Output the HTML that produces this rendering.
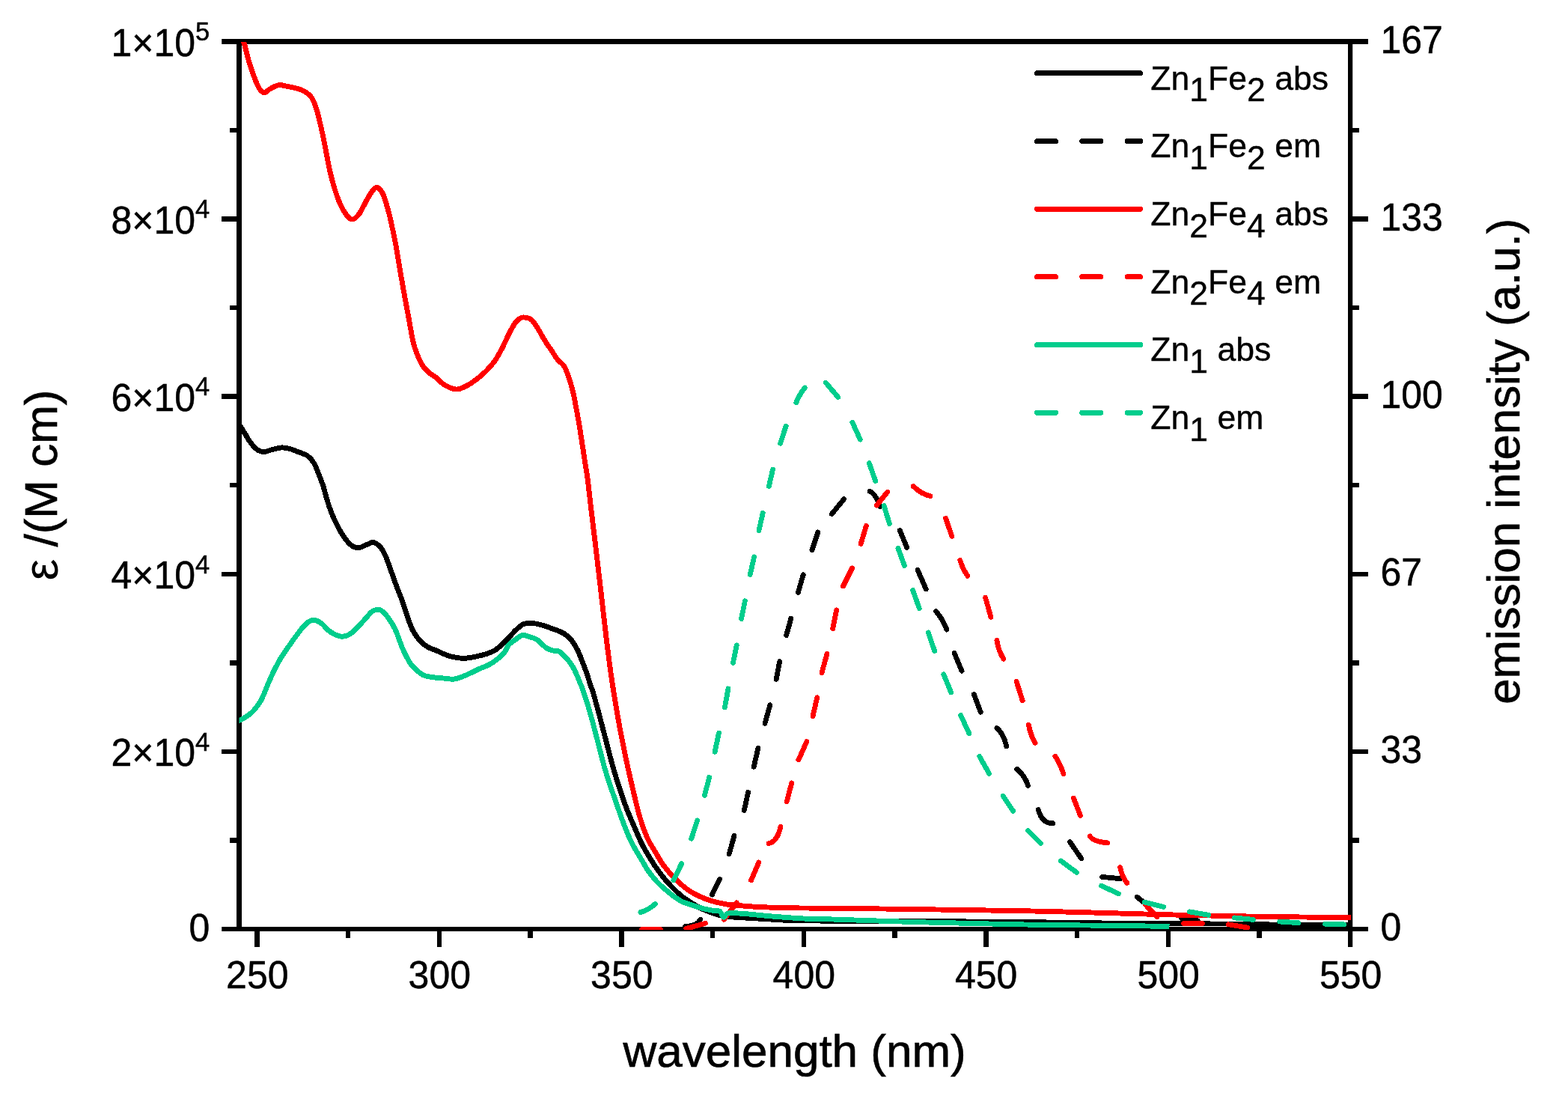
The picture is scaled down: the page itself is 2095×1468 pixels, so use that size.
<!DOCTYPE html>
<html lang="en"><head><meta charset="utf-8"><title>Absorption and emission spectra</title>
<style>html,body{margin:0;padding:0;background:#fff}body{width:2095px;height:1468px;overflow:hidden}svg{display:block}text{font-family:'Liberation Sans', sans-serif;fill:#000}</style>
</head><body>
<svg width="2095" height="1468" viewBox="0 0 2095 1468">
<rect width="2095" height="1468" fill="#fff"/>
<defs><clipPath id="plot"><rect x="319.5" y="56" width="1485.5" height="1186"/></clipPath></defs>
<g fill="#000">
<rect x="296.2" y="52" width="1531.8" height="7"/>
<rect x="296.2" y="1238" width="1531.8" height="6"/>
<rect x="316" y="52" width="7" height="1192"/>
<rect x="1801" y="52" width="6.2" height="1213"/>
</g>
<path d="M307 174.1H319.5M1804.3 174.1H1816M296.2 292.6H319.5M1804.3 292.6H1828M307 411.1H319.5M1804.3 411.1H1816M296.2 529.7H319.5M1804.3 529.7H1828M307 648.2H319.5M1804.3 648.2H1816M296.2 766.8H319.5M1804.3 766.8H1828M307 885.4H319.5M1804.3 885.4H1816M296.2 1003.9H319.5M1804.3 1003.9H1828M307 1122.5H319.5M1804.3 1122.5H1816M343.5 1241V1265M465.2 1241V1253M587 1241V1265M708.7 1241V1253M830.5 1241V1265M952.2 1241V1253M1074 1241V1265M1195.7 1241V1253M1317.4 1241V1265M1439.2 1241V1253M1560.9 1241V1265M1682.7 1241V1253" stroke="#000" stroke-width="6.5" fill="none" shape-rendering="crispEdges"/>
<g clip-path="url(#plot)" fill="none" stroke-width="6.9" stroke-linejoin="round" shape-rendering="crispEdges">
<path d="M316 561C316.7 562.1 318.2 564.8 320 567.7C321.8 570.6 324.3 574.4 326.7 578.2C329.1 582 331.7 587 334.4 590.6C337.1 594.2 340 597.9 343 600.1C346 602.3 349.2 603.5 352.5 603.6C355.8 603.7 359 601.7 363 600.7C367 599.8 372.3 598.1 376.4 597.9C380.5 597.7 384 598.6 387.8 599.6C391.6 600.6 395.5 602.5 399.3 604C403.1 605.5 407.4 606.3 410.7 608.7C414 611.1 416.8 614.1 419.3 618.3C421.9 622.4 423.9 628.5 426 633.6C428.1 638.7 429.9 643.4 431.7 648.8C433.4 654.2 434.8 660.3 436.5 666C438.2 671.7 440.1 677.8 442.2 683.2C444.3 688.6 446.5 693.6 448.9 698.5C451.3 703.4 454.1 708.7 456.6 712.8C459.2 716.9 461.7 720.4 464.2 723.3C466.7 726.2 469.1 728.6 471.8 730C474.5 731.4 477.2 732 480.4 731.5C483.6 731 487.7 728.2 490.9 727.1C494.1 726 496.5 723.8 499.5 724.6C502.5 725.4 506.4 728.6 509.1 731.9C511.8 735.2 513.4 738.7 515.8 744.3C518.2 749.9 520.9 758.5 523.4 765.3C525.9 772.1 528.3 779 530.5 785C532.7 791 534.5 794.5 536.8 801C539.1 807.5 541.9 816.9 544.4 823.9C546.9 830.9 549.1 837.6 552 843C554.9 848.4 558.4 852.9 561.6 856.4C564.8 859.9 567.6 861.9 571.1 864C574.6 866.1 578.2 866.9 582.6 868.8C587 870.7 593.3 873.9 597.8 875.5C602.2 877.1 605.5 877.7 609.3 878.3C613.1 878.9 616.3 879.5 620.8 879.3C625.2 879.1 631.2 878 636 877C640.8 876 645.2 875 649.4 873.6C653.5 872.2 657.4 870.9 660.9 868.8C664.4 866.7 667 864.2 670.4 861.1C673.8 858 677.8 853.6 681 850.3C684.2 847 686.5 844.1 689.5 841.4C692.5 838.6 695.6 835.3 699.1 833.8C702.6 832.3 706.7 832.4 710.5 832.5C714.3 832.6 717.5 833.2 722 834.4C726.5 835.6 732 837.5 737.3 839.5C742.5 841.5 749 843.5 753.5 846.2C758 848.9 761 852.1 764 855.8C767 859.5 769.2 863.4 771.6 868.2C774 873 776.1 878.9 778.3 884.4C780.4 889.9 782.8 895.9 784.5 901C786.2 906.1 787.4 910.8 788.8 915C790.2 919.2 790.8 919.6 792.7 926C794.6 932.4 797.4 942.9 800.3 953.5C803.1 964.1 806.6 977.6 809.8 989.7C813 1001.8 816.2 1014.9 819.4 1026C822.6 1037.2 825.7 1047 828.9 1056.6C832.1 1066.1 835 1074.4 838.5 1083.3C842 1092.2 847 1103.2 849.9 1110C852.8 1116.8 853.8 1119.5 856 1124C858.2 1128.5 859.9 1131.9 863 1137.2C866.1 1142.5 870.8 1150.2 874.5 1155.8C878.2 1161.4 881.7 1166.2 885.5 1171C889.3 1175.8 893.3 1180.1 897.4 1184.4C901.5 1188.7 906 1193.1 910.3 1196.6C914.6 1200.1 918.7 1202.7 923.2 1205.6C927.7 1208.5 932.7 1211.5 937.5 1213.8C942.3 1216.1 947.3 1217.9 951.8 1219.5C956.3 1221.1 960.2 1222.5 964.7 1223.4C969.2 1224.3 973 1224.5 979 1225C985 1225.5 992.1 1225.8 1000.5 1226.3C1008.9 1226.8 1020 1227.5 1029.1 1228C1038.2 1228.5 1043.2 1229.1 1055 1229.4C1066.8 1229.8 1084.2 1229.9 1100 1230.1C1115.8 1230.3 1129.5 1230.3 1150 1230.4C1170.5 1230.5 1198 1230.5 1223 1230.6C1248 1230.7 1273.8 1230.8 1300 1231C1326.2 1231.2 1340 1231.2 1380 1231.7C1420 1232.2 1496.7 1233.4 1540 1233.8C1583.3 1234.2 1613.3 1233.8 1640 1234C1666.7 1234.2 1671.7 1234.8 1700 1235C1728.3 1235.2 1791.7 1235.4 1810 1235.5" stroke="#000000"/>
<path d="M915.8 1237.3Q931.3 1237.2 935.7 1228.3M951.4 1195.2L961.5 1174.4M974.2 1140.7L981.1 1116.2M994.3 1082.5L999.6 1058.3M1007.2 1024.2L1013 999.1M1022 966.4L1028.8 941.8M1037.1 907.4L1041.7 883.7M1050.6 848.7L1056.9 826M1066.4 791.4L1073.2 767.8M1084.9 734.7L1092.9 710.9M1111.3 686.6Q1119.4 676.7 1127.5 666.8M1162 656.2Q1168.8 658 1176.3 676.9M1202.3 708.5L1211.7 731.3M1226 761.3L1237.3 787M1250.5 816.5Q1259.5 826.8 1265 841.1M1275.1 872.4L1285 896.2M1301.3 927.4L1310.2 951.2M1332 972.6Q1341 980.2 1344.8 997M1358.8 1027.4Q1369.4 1036.2 1373.6 1049.4M1387.3 1081.5Q1392.2 1100.4 1406.6 1099.6M1429.4 1124.5L1444.7 1146.7M1472.7 1171.4L1496.9 1173.7M1519.3 1198.2L1533.4 1209.5M1578.6 1226.4L1600.2 1229.7" stroke="#000000" stroke-linecap="round" stroke-width="6.8"/>
<path d="M318 45C319.3 47 323.6 51.7 325.8 57.2C328.1 62.7 329.4 71.2 331.5 78.2C333.6 85.2 335.8 92.8 338.2 99.2C340.6 105.6 343.2 112.7 345.6 116.8C348.1 120.9 350.3 123.6 352.9 123.9C355.5 124.2 357.8 120.3 361.1 118.6C364.4 116.9 368.8 114.2 372.6 113.7C376.4 113.2 380.2 114.7 384 115.4C387.8 116.1 391.7 116.8 395.5 117.9C399.3 119 403.4 120 406.9 122.1C410.4 124.2 413.8 126.6 416.5 130.7C419.2 134.8 421 139.7 423.2 146.9C425.4 154.1 427.7 164.5 429.8 173.7C431.9 182.9 433.7 192.8 435.6 202.3C437.5 211.8 439.4 222.6 441.3 230.9C443.2 239.2 444.8 244.9 447 251.9C449.2 258.9 452.1 267.2 454.7 272.9C457.2 278.6 459.7 282.9 462.3 286.3C464.9 289.7 467.6 293 470.5 293C473.4 293 476.4 290.3 479.5 286.3C482.6 282.3 486 274.4 489 269.1C492 263.9 495.1 257.9 497.6 254.8C500.2 251.7 501.9 249.8 504.3 250.6C506.7 251.4 509.3 254 511.9 259.6C514.4 265.2 517.5 276.7 519.6 284.4C521.7 292.1 522.9 298.6 524.5 306C526.1 313.4 527.4 319.1 529.1 328.6C530.8 338.1 532.9 351.9 534.8 363C536.7 374.1 538.7 385 540.6 395.5C542.5 406 544.4 415.8 546.3 426C548.2 436.2 550.2 449 552 456.6C553.8 464.2 554.7 466.6 556.8 471.8C558.9 477.1 561.7 483.8 564.4 488.1C567.1 492.4 570 494.9 573 497.6C576 500.3 579.4 501.8 582.6 504.3C585.8 506.9 588.9 510.6 592.1 512.9C595.3 515.2 598.5 516.8 601.7 518C604.9 519.2 607.7 520.4 611.2 520C614.7 519.6 618.6 517.9 622.7 515.8C626.8 513.7 631.5 510.5 636 507.2C640.5 503.9 645.2 499.8 649.4 495.7C653.5 491.6 657.4 487.2 660.9 482.3C664.4 477.4 667.2 472.2 670.4 466.1C673.6 460.1 677 451.8 680 446C683 440.2 686 434.8 688.2 431.5C690.4 428.2 691.5 427.7 693.3 426.4C695.1 425.1 696.4 423.8 699.1 423.9C701.8 424 706.4 424.4 709.6 426.8C712.8 429.2 715.2 433.6 718.2 438.2C721.2 442.8 724.5 449.4 727.7 454.5C730.9 459.6 734.4 464.5 737.3 468.8C740.2 473.1 742.2 476.9 744.9 480.2C747.6 483.5 751.1 485.1 753.5 488.8C755.9 492.5 757.3 496.8 759.2 502.2C761.1 507.6 763.2 514.3 765 521.3C766.8 528.3 768.1 535.9 769.7 544.2C771.3 552.5 773.1 562.3 774.5 570.9C775.9 579.5 777 587.5 778.3 595.8C779.6 604.1 780.9 613.1 782.1 620.6C783.3 628.1 783.9 629.8 785.3 641C786.7 652.2 788.8 672 790.7 687.7C792.6 703.5 794.4 718 796.5 735.5C798.6 753 801 773.6 803.2 792.7C805.4 811.8 807.9 834.1 809.8 850C811.7 865.9 813.2 877.9 814.6 888.2C816 898.5 816.7 903.7 818 912C819.3 920.3 820.4 927.5 822.2 938.2C824 948.9 826.5 963.7 828.9 976.4C831.3 989.1 833.9 1001.9 836.6 1014.6C839.3 1027.3 842.2 1040 845.2 1052.7C848.2 1065.4 851.5 1079.9 854.7 1090.9C857.9 1101.9 861.2 1110.9 864.5 1118.5C867.8 1126.1 871.2 1130.7 874.6 1136.5C878 1142.3 881.5 1148.5 884.9 1153.5C888.3 1158.5 891.7 1162.5 895.2 1166.5C898.7 1170.5 902.3 1174.2 906 1177.7C909.7 1181.2 913.6 1184.5 917.4 1187.3C921.2 1190.1 924.6 1192.2 928.9 1194.5C933.2 1196.8 938.4 1199.1 943.2 1200.9C948 1202.7 952.7 1204 957.5 1205.2C962.3 1206.4 967 1207.4 971.8 1208.1C976.6 1208.8 979 1208.9 986.2 1209.5C993.4 1210.1 1002.9 1211 1014.8 1211.6C1026.7 1212.1 1043.6 1212.5 1057.8 1212.8C1072 1213.1 1079.6 1213 1100 1213.2C1120.4 1213.4 1150 1213.6 1180 1214C1210 1214.4 1246.7 1214.9 1280 1215.4C1313.3 1215.9 1350 1216.4 1380 1217C1410 1217.6 1433.3 1218.3 1460 1219C1486.7 1219.7 1513.3 1220.6 1540 1221.3C1566.7 1222 1596.7 1222.6 1620 1223.1C1643.3 1223.6 1660 1223.9 1680 1224.2C1700 1224.5 1718.3 1224.8 1740 1225C1761.7 1225.2 1798.3 1225.6 1810 1225.7" stroke="#FF0000"/>
<path d="M857.4 1241.5L882.5 1241.5M916.8 1240.4L942.4 1233.3M967.3 1228.2L984.2 1205.8M1003.6 1175.9L1013.8 1152M1027.1 1126.7Q1038.9 1123.8 1043 1104M1051.2 1070.7L1057.8 1045.9M1066.9 1015L1077.8 990.6M1086 956.9L1091.7 931.7M1098 898.6L1105.1 873.1M1112.7 839.8L1117.7 814.9M1126.5 783L1138.6 758.9M1150.1 726.5L1157.4 702.3M1171.4 675.1L1185.7 657.2M1220.2 649.5Q1232.5 660.9 1242.8 662.6M1263.5 692.2L1271.8 716.3M1282.7 748.3Q1286.6 761.2 1292.9 769.3M1316.6 798.1L1323.9 824.2M1331.9 855.4Q1333.5 868 1340.8 880.2M1358.1 910.3L1366.2 935.9M1374.3 968.4Q1377.2 982.7 1383 992.3M1409.9 1010.3Q1417.5 1022 1421 1033.7M1434.4 1066L1443.5 1089.5M1456.3 1117Q1460.4 1124.1 1479.7 1125.9M1496.5 1158.4Q1499.8 1172.9 1505.9 1179.4M1530.7 1208.8L1545.7 1224.7M1581.6 1233.6L1606.5 1233.6M1641.3 1234.8L1666.7 1239.1" stroke="#FF0000" stroke-linecap="round" stroke-width="6.8"/>
<path d="M316 964C316.7 963.7 317.9 963.4 320 962.3C322.1 961.2 325.6 959.7 328.6 957.6C331.6 955.5 334.9 953.6 338.2 949.9C341.5 946.2 345.5 941.3 348.7 935.6C351.9 929.9 354.6 921.8 357.3 915.6C360 909.4 362 904.3 364.9 898.4C367.8 892.5 371.3 885.6 374.5 880.2C377.7 874.8 380.5 871 384 865.9C387.5 860.8 391.8 854.6 395.5 849.7C399.2 844.8 402.8 839.7 406 836.3C409.2 832.9 411.9 830.6 414.6 829.3C417.3 828 419.5 828 422.2 828.7C424.9 829.5 428.2 831.7 430.8 833.8C433.4 835.9 434.8 838.9 437.5 841.1C440.2 843.3 443.8 845.7 447 847.2C450.2 848.7 453.4 850.2 456.6 850.3C459.8 850.4 462.9 849.5 466.1 847.8C469.3 846.1 472.4 843.3 475.7 840.1C479 836.9 482.7 832.5 486.2 828.7C489.7 824.9 493.8 819.6 496.7 817.2C499.6 814.8 501.1 814.6 503.3 814.4C505.5 814.2 507.4 814.1 510 815.9C512.5 817.6 515.6 820.7 518.6 824.9C521.6 829.1 525 834.3 528.2 841.1C531.4 847.9 534.7 858.9 537.7 865.9C540.7 872.9 543.9 879 546.3 883.1C548.7 887.2 549 887.7 552 890.7C555 893.7 560.2 898.9 564.4 901.2C568.5 903.5 572.3 903.7 576.9 904.5C581.5 905.3 587 905.6 592.1 906C597.2 906.4 602.3 907.7 607.4 907C612.5 906.3 617.3 904 622.7 901.8C628.1 899.6 634.5 896.1 639.9 893.6C645.3 891.1 649.7 890.2 655.1 886.9C660.5 883.6 668.1 877.9 672.3 873.6C676.4 869.3 677.1 864.3 680 861C682.9 857.7 686.5 855.9 689.5 853.8C692.5 851.7 694.9 849 698.1 848.5C701.3 848 705.2 850 708.6 851C712 852 714.7 852.4 718.2 854.8C721.7 857.2 726.1 862.9 729.6 865.3C733.1 867.7 736.3 868.3 739.2 869.1C742.1 869.9 743.9 868.5 746.8 870.1C749.7 871.7 753.4 875.4 756.4 878.7C759.4 882 762.5 886.1 765 890.1C767.5 894.1 769.5 899.1 771.2 903C773 906.9 774.1 910.2 775.5 913.5C776.9 916.8 777.1 916.2 779.3 922.9C781.5 929.6 785.6 942.4 788.8 953.5C792 964.6 795.2 977.6 798.4 989.7C801.6 1001.8 804.9 1015.5 807.9 1026C810.9 1036.5 813.6 1044.1 816.5 1052.7C819.4 1061.3 822.4 1069.9 825.1 1077.6C827.8 1085.2 830 1091.4 832.7 1098.6C835.4 1105.8 838.8 1114.5 841.5 1120.5C844.2 1126.5 846.1 1129.6 848.7 1134.3C851.3 1139 854.4 1143.8 857.3 1148.6C860.2 1153.4 862.6 1158.2 865.9 1163C869.2 1167.8 873.5 1173.1 877.3 1177.3C881.1 1181.5 885 1184.7 888.8 1188C892.6 1191.3 896.4 1194.5 900.2 1197.3C904 1200 907.4 1202.5 911.7 1204.5C916 1206.5 921.2 1208 926 1209.5C930.8 1211 935.5 1212.6 940.3 1213.8C945.1 1215 951.1 1216.1 954.7 1216.7C958.3 1217.3 959.8 1216 961.8 1217.4C963.8 1218.8 965.1 1224.8 966.8 1225.3C968.5 1225.8 969.3 1221.1 971.8 1220.2C974.3 1219.3 977.1 1219.7 981.9 1219.8C986.7 1219.9 992.6 1220.3 1000.5 1221C1008.4 1221.7 1019.5 1223 1029.1 1223.8C1038.6 1224.6 1049.3 1225.4 1057.8 1226C1066.3 1226.6 1073 1227 1080 1227.3C1087 1227.6 1076.2 1226.9 1100 1227.6C1123.8 1228.3 1176.3 1230.3 1223 1231.6C1269.7 1232.9 1337.2 1234.4 1380 1235.2C1422.8 1236 1449.6 1235.9 1480 1236.3C1510.4 1236.7 1548.8 1237.2 1562.5 1237.4" stroke="#00CD8C"/>
<path d="M855.8 1218.5Q866.2 1216.1 875.3 1207.4M899.8 1175.9L910.7 1153.6M923.7 1120.3L931.7 1095.9M941.4 1062.4L947.7 1038.3M955.1 1004.2L960.5 979.1M968.4 945L973 919.9M979.4 885.5L984.3 861.9M990.5 826.7L995.4 802.7M1002.3 767.5L1007.6 743.9M1013.9 708.9L1019.3 685.1M1027.3 649.7L1032.5 627.1M1042.6 592.2L1050.2 569M1063.7 537.9Q1068.5 526.1 1075.3 518M1103.3 511.1L1119.8 530.6M1138.9 564.3L1149.3 587.1M1161.3 618.7L1169.7 642.4M1181.1 675.6L1188.5 699.7M1199.9 732.3L1208.4 755.6M1219.7 788.5L1228.3 812.7M1240.2 844.9L1248.7 869.6M1260.8 900.7L1270.7 924.9M1283.7 955.5L1294.9 979.9M1308.8 1010.5L1321.6 1033.3M1340.2 1063.4L1353.7 1083.4M1373.6 1109.5L1390.5 1126.4M1417.5 1150L1438.4 1165.3M1471.6 1183.1L1494.5 1193.9M1529 1205.1L1554.7 1211.4M1589.5 1217.9L1614.6 1222.3M1649.4 1225.9L1674.5 1228.4M1709.8 1231L1734.7 1232.7M1770.6 1234.2L1795.5 1234.9" stroke="#00CD8C" stroke-linecap="round" stroke-width="6.8"/>
</g>
<text transform="translate(280.3 75) scale(1 1.025)" font-size="50" text-anchor="end" stroke="#000" stroke-width="0.5">1×10<tspan font-size="34.5" dy="-20.3">5</tspan></text>
<text transform="translate(280.3 312.1) scale(1 1.025)" font-size="50" text-anchor="end" stroke="#000" stroke-width="0.5">8×10<tspan font-size="34.5" dy="-20.3">4</tspan></text>
<text transform="translate(280.3 549.2) scale(1 1.025)" font-size="50" text-anchor="end" stroke="#000" stroke-width="0.5">6×10<tspan font-size="34.5" dy="-20.3">4</tspan></text>
<text transform="translate(280.3 786.3) scale(1 1.025)" font-size="50" text-anchor="end" stroke="#000" stroke-width="0.5">4×10<tspan font-size="34.5" dy="-20.3">4</tspan></text>
<text transform="translate(280.3 1023.4) scale(1 1.025)" font-size="50" text-anchor="end" stroke="#000" stroke-width="0.5">2×10<tspan font-size="34.5" dy="-20.3">4</tspan></text>
<text transform="translate(280.3 1256.6) scale(1 1.025)" font-size="50" text-anchor="end" stroke="#000" stroke-width="0.5">0</text>
<text transform="translate(1844.4 70.7) scale(1 1.025)" font-size="50" text-anchor="start" stroke="#000" stroke-width="0.5">167</text>
<text transform="translate(1844.4 307.8) scale(1 1.025)" font-size="50" text-anchor="start" stroke="#000" stroke-width="0.5">133</text>
<text transform="translate(1844.4 544.9) scale(1 1.025)" font-size="50" text-anchor="start" stroke="#000" stroke-width="0.5">100</text>
<text transform="translate(1844.4 782) scale(1 1.025)" font-size="50" text-anchor="start" stroke="#000" stroke-width="0.5">67</text>
<text transform="translate(1844.4 1019.1) scale(1 1.025)" font-size="50" text-anchor="start" stroke="#000" stroke-width="0.5">33</text>
<text transform="translate(1844.4 1256.2) scale(1 1.025)" font-size="50" text-anchor="start" stroke="#000" stroke-width="0.5">0</text>
<text transform="translate(343.8 1320) scale(1 1.025)" font-size="50" text-anchor="middle" stroke="#000" stroke-width="0.5">250</text>
<text transform="translate(587.3 1320) scale(1 1.025)" font-size="50" text-anchor="middle" stroke="#000" stroke-width="0.5">300</text>
<text transform="translate(830.8 1320) scale(1 1.025)" font-size="50" text-anchor="middle" stroke="#000" stroke-width="0.5">350</text>
<text transform="translate(1074.3 1320) scale(1 1.025)" font-size="50" text-anchor="middle" stroke="#000" stroke-width="0.5">400</text>
<text transform="translate(1317.7 1320) scale(1 1.025)" font-size="50" text-anchor="middle" stroke="#000" stroke-width="0.5">450</text>
<text transform="translate(1561.2 1320) scale(1 1.025)" font-size="50" text-anchor="middle" stroke="#000" stroke-width="0.5">500</text>
<text transform="translate(1804.7 1320) scale(1 1.025)" font-size="50" text-anchor="middle" stroke="#000" stroke-width="0.5">550</text>
<text x="1061.6" y="1424.6" font-size="62" text-anchor="middle" stroke="#000" stroke-width="0.7">wavelength (nm)</text>
<text transform="translate(76.6 775.6) rotate(-90)" font-size="65" font-family="'Liberation Serif', serif">ε</text>
<text transform="translate(76 730.6) rotate(-90)" font-size="62" stroke="#000" stroke-width="0.7">/(M cm)</text>
<text transform="translate(2030.4 940.8) rotate(-90)" font-size="61.8" stroke="#000" stroke-width="0.7">emission intensity (a.u.)</text>
<path d="M1385.5 97.8H1523.5" stroke="#000000" stroke-width="7" stroke-linecap="round" fill="none" shape-rendering="crispEdges"/>
<text transform="translate(1537.2 119.7) scale(1 1.015)" font-size="44.6" text-anchor="start" stroke="#000" stroke-width="0.4" xml:space="preserve">Zn<tspan dy="15.5">1</tspan><tspan dy="-15.5">Fe</tspan><tspan dy="15.5">2</tspan><tspan dy="-15.5"> abs</tspan></text>
<path d="M1385.5 188.5H1523.5" stroke="#000000" stroke-width="7" stroke-linecap="round" fill="none" shape-rendering="crispEdges" stroke-dasharray="25 35.3"/>
<text transform="translate(1537.2 210.4) scale(1 1.015)" font-size="44.6" text-anchor="start" stroke="#000" stroke-width="0.4" xml:space="preserve">Zn<tspan dy="15.5">1</tspan><tspan dy="-15.5">Fe</tspan><tspan dy="15.5">2</tspan><tspan dy="-15.5"> em</tspan></text>
<path d="M1385.5 279.2H1523.5" stroke="#FF0000" stroke-width="7" stroke-linecap="round" fill="none" shape-rendering="crispEdges"/>
<text transform="translate(1537.2 301.1) scale(1 1.015)" font-size="44.6" text-anchor="start" stroke="#000" stroke-width="0.4" xml:space="preserve">Zn<tspan dy="15.5">2</tspan><tspan dy="-15.5">Fe</tspan><tspan dy="15.5">4</tspan><tspan dy="-15.5"> abs</tspan></text>
<path d="M1385.5 369.8H1523.5" stroke="#FF0000" stroke-width="7" stroke-linecap="round" fill="none" shape-rendering="crispEdges" stroke-dasharray="25 35.3"/>
<text transform="translate(1537.2 391.7) scale(1 1.015)" font-size="44.6" text-anchor="start" stroke="#000" stroke-width="0.4" xml:space="preserve">Zn<tspan dy="15.5">2</tspan><tspan dy="-15.5">Fe</tspan><tspan dy="15.5">4</tspan><tspan dy="-15.5"> em</tspan></text>
<path d="M1385.5 460.5H1523.5" stroke="#00CD8C" stroke-width="7" stroke-linecap="round" fill="none" shape-rendering="crispEdges"/>
<text transform="translate(1537.2 482.4) scale(1 1.015)" font-size="44.6" text-anchor="start" stroke="#000" stroke-width="0.4" xml:space="preserve">Zn<tspan dy="15.5">1</tspan><tspan dy="-15.5"> abs</tspan></text>
<path d="M1385.5 551.2H1523.5" stroke="#00CD8C" stroke-width="7" stroke-linecap="round" fill="none" shape-rendering="crispEdges" stroke-dasharray="25 35.3"/>
<text transform="translate(1537.2 573.1) scale(1 1.015)" font-size="44.6" text-anchor="start" stroke="#000" stroke-width="0.4" xml:space="preserve">Zn<tspan dy="15.5">1</tspan><tspan dy="-15.5"> em</tspan></text>
</svg></body></html>
